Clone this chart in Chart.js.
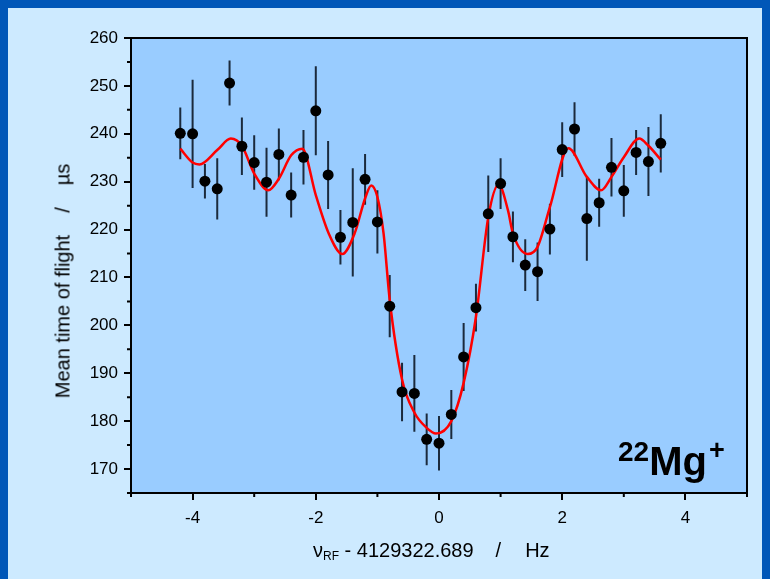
<!DOCTYPE html>
<html lang="en">
<head>
    <meta charset="UTF-8">
    <title>22Mg+ TOF resonance</title>
    <script src="https://cdn.jsdelivr.net/npm/chart.js"></script>
    <style>
        html, body { margin: 0; padding: 0; }
        body { width: 770px; height: 579px; position: relative; overflow: hidden; font-family: "Liberation Sans", Arial, sans-serif; }
        #tofChart { position: absolute; left: 0; top: 0; }
        .lbl { position: absolute; white-space: pre; color: #000; }
        .lbl .sl { margin: 0 22px; }
        #ytitle { left: 63px; top: 281px; font-size: 20px; transform: translate(-50%, -50%) rotate(-90deg); }
        #xtitle { left: 313px; top: 538px; font-size: 20px; line-height: 24px; }
        #xtitle .sl { margin: 0 24px 0 22px; }
        #xtitle sub { font-size: 12px; position: relative; top: 3px; vertical-align: baseline; }
        #ion { left: 618px; top: 441px; font-size: 40px; line-height: 40px; font-weight: bold; }
        #ion .iso { font-size: 28px; position: relative; top: -14px; }
        #ion .chg { font-size: 27px; position: relative; top: -16px; margin-left: 2px; }
    </style>
</head>
<body>
    <canvas id="tofChart" width="770" height="579"></canvas>
    <div class="lbl" id="ytitle">Mean time of flight<span class="sl">/</span>µs</div>
    <div class="lbl" id="xtitle">ν<sub>RF</sub> - 4129322.689<span class="sl">/</span>Hz</div>
    <div class="lbl" id="ion"><span class="iso">22</span>Mg<span class="chg">+</span></div>

    <script>
        // measured points (frequency offset in Hz, mean TOF in µs, error)
        const freq = [-4.2, -4.0, -3.8, -3.6, -3.4, -3.2, -3.0, -2.8, -2.6, -2.4,
                      -2.2, -2.0, -1.8, -1.6, -1.4, -1.2, -1.0, -0.8, -0.6, -0.4,
                      -0.2, 0.0, 0.2, 0.4, 0.6, 0.8, 1.0, 1.2, 1.4, 1.6,
                      1.8, 2.0, 2.2, 2.4, 2.6, 2.8, 3.0, 3.2, 3.4, 3.6];
        const tof = [240.1, 240.0, 230.1, 228.5, 250.6, 237.4, 234.0, 229.9, 235.7, 227.2,
                     235.1, 244.8, 231.4, 218.4, 221.5, 230.5, 221.6, 204.0, 186.1, 185.8,
                     176.2, 175.4, 181.4, 193.4, 203.7, 223.3, 229.6, 218.5, 212.6, 211.2,
                     220.1, 236.7, 241.0, 222.3, 225.6, 233.0, 228.1, 236.1, 234.2, 238.0];
        const tofErr = [5.4, 11.3, 3.6, 6.4, 4.7, 6.0, 5.7, 7.2, 5.4, 4.7,
                        5.7, 9.3, 7.1, 5.7, 11.3, 5.3, 6.6, 6.5, 6.1, 8.0,
                        5.4, 5.7, 5.1, 7.1, 5.0, 8.0, 5.3, 5.3, 5.4, 6.1,
                        5.3, 5.7, 5.6, 8.8, 5.0, 6.1, 5.4, 4.7, 7.2, 6.1];

        // fitted line shape
        const fitFreq = [-4.2, -4.0, -3.89, -3.6, -3.38, -3.2, -3.0, -2.77, -2.6, -2.4,
                         -2.22, -2.0, -1.79, -1.57, -1.37, -1.2, -1.1, -1.0, -0.9, -0.8,
                         -0.6, -0.4, -0.2, -0.05, 0.2, 0.4, 0.6, 0.8, 0.97, 1.12,
                         1.2, 1.44, 1.6, 1.8, 2.1, 2.4, 2.63, 2.8, 3.0, 3.25, 3.4, 3.6];
        const fitTof = [236.9, 234.0, 233.6, 236.6, 239.0, 237.5, 231.7, 228.2, 230.6, 235.5,
                        236.9, 227.2, 219.2, 214.9, 219.2, 226.5, 229.2, 226.8, 219.2, 205.3,
                        188.7, 181.8, 178.6, 177.4, 180.0, 188.0, 201.8, 222.6, 229.4, 224.0,
                        219.2, 214.9, 216.4, 224.7, 237.0, 231.0, 228.2, 231.0, 235.1, 239.0, 237.5, 234.6];

        const xTicks = [-4, -2, 0, 2, 4];
        const xMinor = [-5, -3, -1, 1, 3, 5];
        const yTicks = [170, 180, 190, 200, 210, 220, 230, 240, 250, 260];
        const yMinor = [165, 175, 185, 195, 205, 215, 225, 235, 245, 255];

        // slide background + plot area fill
        const backdrop = {
            id: "backdrop",
            beforeDraw(chart) {
                const c = chart.ctx, a = chart.chartArea;
                c.save();
                c.fillStyle = "#0057b8";
                c.fillRect(0, 0, chart.width, chart.height);
                c.fillStyle = "#cdeaff";
                c.fillRect(8, 8, chart.width - 16, chart.height - 8);
                c.fillStyle = "#99ccff";
                c.fillRect(a.left, a.top, a.right - a.left, a.bottom - a.top);
                c.restore();
            },
            afterDraw(chart) {
                const c = chart.ctx, a = chart.chartArea;
                const xs = chart.scales.x, ys = chart.scales.y;
                c.save();
                c.strokeStyle = "#000";
                c.lineWidth = 2;
                c.strokeRect(a.left, a.top, a.right - a.left, a.bottom - a.top);
                c.beginPath();
                xMinor.forEach(v => {
                    const px = xs.getPixelForValue(v);
                    c.moveTo(px, a.bottom);
                    c.lineTo(px, a.bottom + 4);
                });
                yMinor.forEach(v => {
                    const py = ys.getPixelForValue(v);
                    c.moveTo(a.left, py);
                    c.lineTo(a.left - 4, py);
                });
                c.stroke();
                c.restore();
            }
        };

        // vertical error bars
        const errorBars = {
            id: "errorBars",
            beforeDatasetsDraw(chart) {
                const c = chart.ctx;
                const xs = chart.scales.x, ys = chart.scales.y;
                c.save();
                c.strokeStyle = "#1b2a3c";
                c.lineWidth = 2;
                c.beginPath();
                freq.forEach((f, i) => {
                    const px = xs.getPixelForValue(f);
                    c.moveTo(px, ys.getPixelForValue(tof[i] + tofErr[i]));
                    c.lineTo(px, ys.getPixelForValue(tof[i] - tofErr[i]));
                });
                c.stroke();
                c.restore();
            }
        };

        const tickFont = { family: "'Liberation Sans', Arial, sans-serif", size: 17 };

        new Chart(document.getElementById("tofChart"), {
            type: "scatter",
            data: {
                datasets: [{
                    label: "data",
                    data: freq.map((f, i) => ({ x: f, y: tof[i] })),
                    pointRadius: 5.5,
                    pointBackgroundColor: "#000",
                    pointBorderWidth: 0,
                    showLine: false
                }, {
                    label: "fit",
                    data: fitFreq.map((f, i) => ({ x: f, y: fitTof[i] })),
                    showLine: true,
                    pointRadius: 0,
                    borderColor: "#ff0000",
                    borderWidth: 2.5,
                    cubicInterpolationMode: "monotone",
                    fill: false
                }]
            },
            options: {
                responsive: false,
                animation: false,
                layout: { padding: { left: 0, top: 38, right: 23, bottom: 0 } },
                plugins: { legend: { display: false }, tooltip: { enabled: false } },
                scales: {
                    x: {
                        type: "linear",
                        min: -5,
                        max: 5,
                        afterBuildTicks(scale) { scale.ticks = xTicks.map(v => ({ value: v })); },
                        afterFit(scale) { scale.height = 86; },
                        grid: { drawOnChartArea: false, drawTicks: true, tickLength: 7, color: "#000", lineWidth: 2 },
                        border: { display: false },
                        ticks: { font: tickFont, color: "#000", padding: 8, maxRotation: 0, autoSkip: false }
                    },
                    y: {
                        type: "linear",
                        min: 165,
                        max: 260,
                        afterBuildTicks(scale) { scale.ticks = yTicks.map(v => ({ value: v })); },
                        afterFit(scale) { scale.width = 131; },
                        grid: { drawOnChartArea: false, drawTicks: true, tickLength: 7, color: "#000", lineWidth: 2 },
                        border: { display: false },
                        ticks: { font: tickFont, color: "#000", padding: 6, autoSkip: false }
                    }
                }
            },
            plugins: [backdrop, errorBars]
        });
    </script>
</body>
</html>
